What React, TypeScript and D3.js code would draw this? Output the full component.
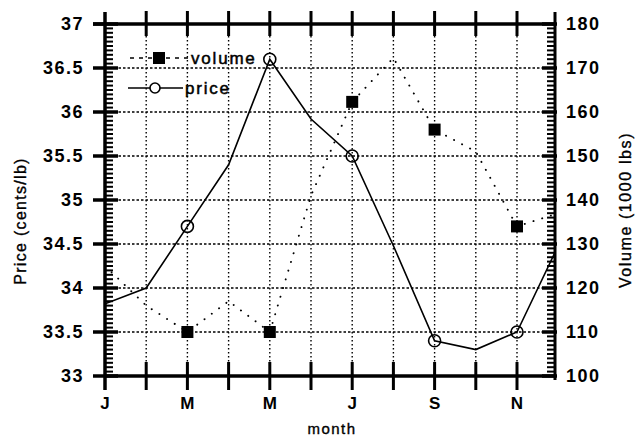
import React from "react";
import * as d3 from "d3";

// monthly series, Jan..Dec
const months = ["Jan", "Feb", "Mar", "Apr", "May", "Jun", "Jul", "Aug", "Sep", "Oct", "Nov", "Dec"];
const monthLetters = ["J", "F", "M", "A", "M", "J", "J", "A", "S", "O", "N", "D"];
const price = [33.82, 34.0, 34.7, 35.4, 36.6, 35.92, 35.5, 34.48, 33.4, 33.3, 33.5, 34.48];
const volume = [125, 116, 110, 117, 110, 141, 162.3, 172.3, 156, 151, 134, 137];
const markerMonths = [2, 4, 6, 8, 10];
const priceTicks = [33, 33.5, 34, 34.5, 35, 35.5, 36, 36.5, 37];
const volumeTicks = [100, 110, 120, 130, 140, 150, 160, 170, 180];
const labelledMonths = [0, 2, 4, 6, 8, 10];

const W = 635;
const H = 437;
const left = 105;
const right = 555;
const top = 24;
const bottom = 376;
const font = "'Liberation Sans', Arial, Helvetica, sans-serif";

export default function App() {
  const x = d3.scaleLinear().domain([0, months.length - 1]).range([left, left + 11 * 41.2]);
  const yP = d3.scaleLinear().domain([33, 37]).range([bottom, top]);
  const yV = d3.scaleLinear().domain([100, 180]).range([bottom, top]);

  const priceLine = d3.line<number>().x((d, i) => x(i)).y((d) => yP(d));
  const volumeLine = d3.line<number>().x((d, i) => x(i)).y((d) => yV(d));

  const gridMonths = d3.range(1, 11);
  const minorP = d3.range(0, 81).map((i) => 33 + i * 0.05);
  const minorV = d3.range(0, 81).map((i) => 100 + i);

  return (
    <svg width={W} height={H} style={{ position: "absolute", left: 0, top: 0, background: "#fff" }} fontFamily={font}>
      <defs>
        <clipPath id="plot">
          <rect x={left} y={top - 10} width={right - left} height={bottom - top + 20} />
        </clipPath>
      </defs>

      {/* grid */}
      {gridMonths.map((m) => (
        <line key={"gx" + m} x1={x(m)} x2={x(m)} y1={top} y2={bottom} stroke="#000" strokeWidth={1.4} strokeDasharray="1.5,2.5" />
      ))}
      {priceTicks.slice(1, -1).map((t) => (
        <line key={"gy" + t} x1={left} x2={right} y1={yP(t)} y2={yP(t)} stroke="#000" strokeWidth={1.4} strokeDasharray="2.5,2" />
      ))}

      {/* series */}
      <g clipPath="url(#plot)">
        <path d={volumeLine(volume) || ""} fill="none" stroke="#000" strokeWidth={1.9} strokeDasharray="0.1,9" strokeLinecap="round" />
        <path d={priceLine(price) || ""} fill="none" stroke="#000" strokeWidth={1.6} />
      </g>
      {markerMonths.map((m) => (
        <rect key={"sq" + m} x={x(m) - 6} y={yV(volume[m]) - 6} width={12} height={12} fill="#000" />
      ))}
      {markerMonths.map((m) => (
        <circle key={"ci" + m} cx={x(m)} cy={yP(price[m])} r={6} fill="none" stroke="#000" strokeWidth={1.6} />
      ))}

      {/* frame */}
      <line x1={93} x2={right} y1={top} y2={top} stroke="#000" strokeWidth={3.5} />
      <line x1={left} x2={right} y1={bottom} y2={bottom} stroke="#000" strokeWidth={3.5} />
      <line x1={left} x2={left} y1={top - 12} y2={bottom + 14} stroke="#000" strokeWidth={3.5} />
      <line x1={right} x2={right} y1={top - 12} y2={bottom + 4} stroke="#000" strokeWidth={3} />

      {/* month ticks top and bottom */}
      {gridMonths.map((m) => (
        <g key={"mt" + m}>
          <line x1={x(m)} x2={x(m)} y1={top - 13} y2={top + 12} stroke="#000" strokeWidth={3} />
          <line x1={x(m)} x2={x(m)} y1={bottom - 14} y2={bottom + 14} stroke="#000" strokeWidth={3} />
        </g>
      ))}

      {/* left axis ticks */}
      {minorP.map((t, i) => (
        <line key={"mp" + i} x1={left} x2={left + 8} y1={yP(t)} y2={yP(t)} stroke="#000" strokeWidth={2} />
      ))}
      {priceTicks.map((t) => (
        <line key={"pp" + t} x1={93} x2={118} y1={yP(t)} y2={yP(t)} stroke="#000" strokeWidth={3.5} />
      ))}
      {priceTicks.map((t) => (
        <text key={"pl" + t} x={84} y={yP(t)} dy="0.36em" textAnchor="end" fontSize={18} fontWeight="bold" letterSpacing={1.5}>
          {String(t)}
        </text>
      ))}

      {/* right axis ticks */}
      {minorV.map((t, i) => (
        <line key={"mv" + i} x1={right - 8} x2={right} y1={yV(t)} y2={yV(t)} stroke="#000" strokeWidth={2} />
      ))}
      {volumeTicks.map((t) => (
        <line key={"vv" + t} x1={right - 13} x2={right + 2} y1={yV(t)} y2={yV(t)} stroke="#000" strokeWidth={3.5} />
      ))}
      {volumeTicks.map((t) => (
        <text key={"vl" + t} x={566} y={yV(t)} dy="0.36em" textAnchor="start" fontSize={18} fontWeight="bold" letterSpacing={1.5}>
          {String(t)}
        </text>
      ))}

      {/* month labels */}
      {labelledMonths.map((m) => (
        <text key={"ml" + m} x={x(m)} y={409} textAnchor="middle" fontSize={17} fontWeight="bold">
          {monthLetters[m]}
        </text>
      ))}

      {/* axis titles, a little heavier like the scan */}
      <g stroke="#000" strokeWidth={0.35}>
        <text x={332} y={434} textAnchor="middle" fontSize={15} letterSpacing={1.5}>month</text>
        <text transform="translate(26,221) rotate(-90)" textAnchor="middle" fontSize={16} letterSpacing={1.3}>
          Price (cents/lb)
        </text>
        <text transform="translate(631,210) rotate(-90)" textAnchor="middle" fontSize={16} letterSpacing={1.6}>
          Volume (1000 lbs)
        </text>
      </g>

      {/* legend */}
      <line x1={130} x2={188} y1={58} y2={58} stroke="#000" strokeWidth={1.6} strokeDasharray="4,5" />
      <rect x={153} y={52} width={12} height={12} fill="#000" />
      <line x1={128} x2={183} y1={88} y2={88} stroke="#000" strokeWidth={1.6} />
      <circle cx={155} cy={88} r={5} fill="#fff" stroke="#000" strokeWidth={1.6} />
      <g stroke="#000" strokeWidth={0.5}>
        <text x={191} y={64} fontSize={17} letterSpacing={1.8}>volume</text>
        <text x={185} y={94} fontSize={17} letterSpacing={1.8}>price</text>
      </g>
    </svg>
  );
}
